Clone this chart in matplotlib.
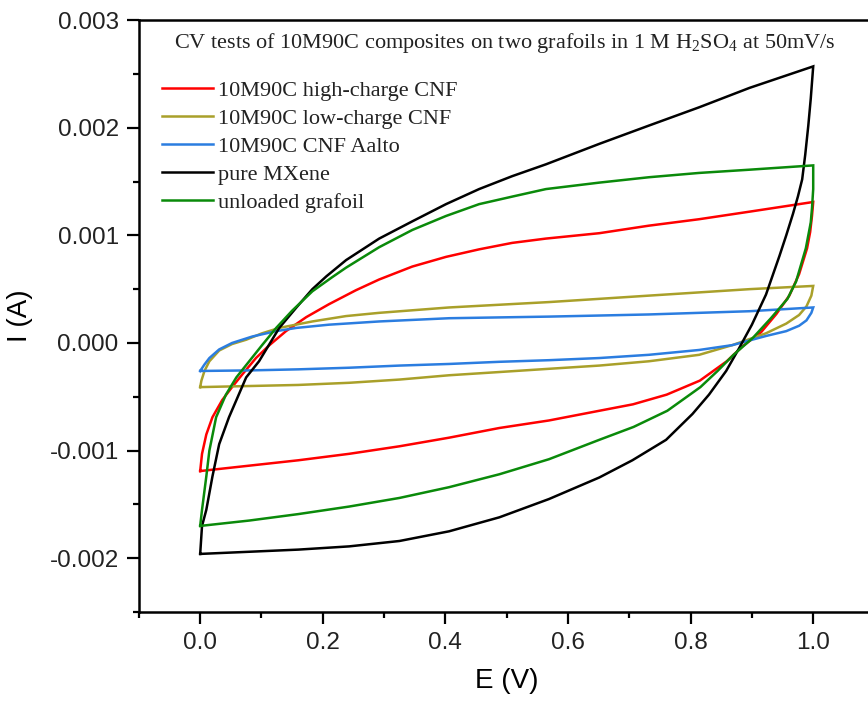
import matplotlib
matplotlib.use("Agg")
import matplotlib.pyplot as plt
from matplotlib.ticker import MultipleLocator
import numpy as np

# values, I in mA (converted to A when plotted)
black_e_fwd = [0.0, 0.003, 0.010, 0.020, 0.031, 0.047, 0.075, 0.096, 0.129, 0.157, 0.183, 0.206,
               0.238, 0.292, 0.346, 0.401, 0.455, 0.509, 0.564, 0.651, 0.732, 0.814, 0.896, 1.0]
black_i_fwd = [-1.96, -1.70, -1.55, -1.24, -0.94, -0.69, -0.32, -0.17, 0.14, 0.33, 0.50, 0.62,
               0.77, 0.97, 1.13, 1.29, 1.43, 1.55, 1.66, 1.85, 2.02, 2.19, 2.37, 2.57]
black_e_rev = [1.0, 0.996, 0.992, 0.987, 0.982, 0.975, 0.967, 0.956, 0.945, 0.923, 0.900, 0.879,
               0.858, 0.830, 0.803, 0.760, 0.705, 0.651, 0.569, 0.488, 0.406, 0.325, 0.243,
               0.160, 0.080, 0.0]
black_i_rev = [2.57, 2.27, 2.02, 1.75, 1.52, 1.36, 1.20, 1.00, 0.81, 0.45, 0.17, -0.05, -0.26,
               -0.48, -0.66, -0.90, -1.09, -1.25, -1.45, -1.62, -1.75, -1.84, -1.89, -1.92,
               -1.94, -1.96]

green_e_fwd = [0.0, 0.003, 0.010, 0.015, 0.026, 0.042, 0.059, 0.080, 0.101, 0.124, 0.150, 0.183,
               0.215, 0.238, 0.292, 0.346, 0.401, 0.455, 0.509, 0.564, 0.651, 0.732, 0.814,
               0.896, 1.0]
green_i_fwd = [-1.70, -1.55, -1.24, -1.00, -0.69, -0.48, -0.32, -0.17, -0.02, 0.14, 0.30, 0.48,
               0.61, 0.70, 0.89, 1.05, 1.18, 1.29, 1.36, 1.43, 1.49, 1.54, 1.58, 1.61, 1.65]
green_e_rev = [1.0, 1.0, 0.998, 0.996, 0.988, 0.972, 0.958, 0.931, 0.902, 0.870, 0.844, 0.816,
               0.762, 0.707, 0.651, 0.569, 0.488, 0.406, 0.325, 0.243, 0.160, 0.080, 0.0]
green_i_rev = [1.65, 1.43, 1.25, 1.12, 0.88, 0.57, 0.41, 0.23, 0.05, -0.11, -0.26, -0.41,
               -0.63, -0.78, -0.90, -1.08, -1.22, -1.34, -1.44, -1.52, -1.59, -1.65, -1.70]

red_e_fwd = [0.0, 0.003, 0.010, 0.020, 0.036, 0.052, 0.069, 0.091, 0.113, 0.140, 0.173, 0.210,
             0.254, 0.292, 0.346, 0.401, 0.455, 0.509, 0.564, 0.651, 0.732, 0.814, 0.896, 1.0]
red_i_fwd = [-1.19, -1.03, -0.85, -0.69, -0.53, -0.41, -0.29, -0.14, -0.02, 0.11, 0.24, 0.36,
             0.49, 0.59, 0.71, 0.80, 0.87, 0.93, 0.97, 1.02, 1.09, 1.15, 1.22, 1.31]
red_e_rev = [1.0, 0.998, 0.995, 0.990, 0.977, 0.961, 0.940, 0.915, 0.885, 0.859, 0.815, 0.761,
             0.706, 0.651, 0.569, 0.488, 0.406, 0.325, 0.243, 0.160, 0.080, 0.0]
red_i_rev = [1.31, 1.18, 1.03, 0.88, 0.64, 0.44, 0.27, 0.10, -0.03, -0.17, -0.35, -0.48,
             -0.57, -0.63, -0.72, -0.79, -0.88, -0.96, -1.03, -1.09, -1.14, -1.19]

olive_e_fwd = [0.0, 0.002, 0.007, 0.015, 0.031, 0.052, 0.075, 0.101, 0.129, 0.183, 0.238, 0.292,
               0.406, 0.569, 0.651, 0.732, 0.814, 0.896, 1.0]
olive_i_fwd = [-0.41, -0.35, -0.26, -0.17, -0.07, -0.01, 0.03, 0.09, 0.14, 0.20, 0.25, 0.28,
               0.33, 0.38, 0.41, 0.44, 0.47, 0.50, 0.53]
olive_e_rev = [1.0, 0.997, 0.989, 0.977, 0.956, 0.923, 0.868, 0.814, 0.732, 0.651, 0.569, 0.488,
               0.406, 0.325, 0.243, 0.160, 0.080, 0.0]
olive_i_rev = [0.53, 0.44, 0.34, 0.26, 0.18, 0.09, -0.02, -0.11, -0.17, -0.21, -0.24, -0.27,
               -0.30, -0.34, -0.37, -0.39, -0.40, -0.41]

blue_e_fwd = [0.0, 0.007, 0.015, 0.031, 0.052, 0.085, 0.124, 0.157, 0.210, 0.292, 0.406, 0.569,
              0.651, 0.732, 0.814, 0.896, 1.0]
blue_i_fwd = [-0.26, -0.20, -0.14, -0.06, 0.0, 0.06, 0.11, 0.14, 0.17, 0.20, 0.23, 0.245,
              0.255, 0.265, 0.28, 0.295, 0.33]
blue_e_rev = [1.0, 0.997, 0.989, 0.977, 0.956, 0.923, 0.868, 0.814, 0.732, 0.651, 0.569, 0.488,
              0.406, 0.325, 0.243, 0.160, 0.080, 0.0]
blue_i_rev = [0.33, 0.28, 0.21, 0.16, 0.11, 0.065, -0.02, -0.065, -0.11, -0.14, -0.16, -0.175,
              -0.195, -0.21, -0.23, -0.245, -0.255, -0.26]

labels = ["10M90C high-charge CNF", "10M90C low-charge CNF", "10M90C CNF Aalto",
          "pure MXene", "unloaded grafoil"]
colors = ["#ff0000", "#a9a02a", "#2b7de0", "#000000", "#0a8a0a"]

curves = [
    (red_e_fwd, red_i_fwd, red_e_rev, red_i_rev),
    (olive_e_fwd, olive_i_fwd, olive_e_rev, olive_i_rev),
    (blue_e_fwd, blue_i_fwd, blue_e_rev, blue_i_rev),
    (black_e_fwd, black_i_fwd, black_e_rev, black_i_rev),
    (green_e_fwd, green_i_fwd, green_e_rev, green_i_rev),
]

fig = plt.figure(figsize=(8.68, 7.03), dpi=100)
ax = fig.add_axes([0.160, 0.1294, 0.8475, 0.842])

for (ef, i_f, er, i_r), lab, col in zip(curves, labels, colors):
    e = ef + er
    cur = np.array(i_f + i_r) * 1e-3
    ax.plot(e, cur, color=col, lw=1.8, label=lab, solid_joinstyle="miter")

ax.set_xlim(-0.1, 1.1)
ax.set_ylim(-0.0025, 0.003)
ax.xaxis.set_major_locator(MultipleLocator(0.2))
ax.xaxis.set_minor_locator(MultipleLocator(0.1))
ax.yaxis.set_major_locator(MultipleLocator(0.001))
ax.yaxis.set_minor_locator(MultipleLocator(0.0005))
ax.xaxis.set_major_formatter(plt.FuncFormatter(lambda v, p: f"{v:.1f}"))
ax.yaxis.set_major_formatter(plt.FuncFormatter(lambda v, p: f"{v:.3f}"))

for s in ax.spines.values():
    s.set_linewidth(1.8)
ax.tick_params(which="both", direction="out", width=1.6, labelsize=17.5, pad=6)
ax.tick_params(which="major", length=8.5)
ax.tick_params(which="minor", length=4.5)
for t in ax.get_xticklabels() + ax.get_yticklabels():
    t.set_family("Liberation Sans")
    t.set_color("#222222")

ax.set_xlabel("E (V)", fontsize=20, family="Liberation Sans", labelpad=10)
ax.set_ylabel("I (A)", fontsize=20, family="Liberation Sans", labelpad=12)

title = r"CV tests of 10M90C composites on two grafoils in 1 M H$_\mathregular{2}$SO$_\mathregular{4}$ at 50mV/s"
ax.text((174 - 139) / 735.6, 0.961, title, transform=ax.transAxes, ha="left", va="center",
        fontsize=16, family="Liberation Serif", color="#222222")

leg = ax.legend(loc="upper left", bbox_to_anchor=(0.031, 0.898), frameon=False,
                prop={"family": "Liberation Serif", "size": 16}, handlelength=2.3,
                handletextpad=0.22, labelspacing=0.335, borderaxespad=0, borderpad=0)
for t in leg.get_texts():
    t.set_color("#222222")

fig.savefig("out.png", dpi=100)
